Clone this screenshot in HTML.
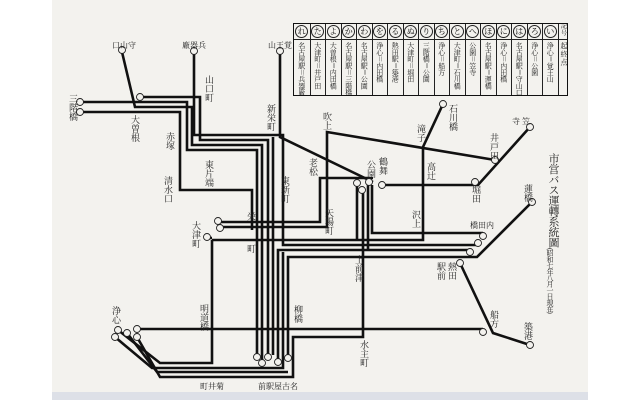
<!DOCTYPE html>
<html><head><meta charset="utf-8"><style>
body{margin:0;width:640px;height:400px;background:#fff;overflow:hidden;position:relative;font-family:"Liberation Serif","Noto Serif CJK SC","Noto Sans CJK JP",serif;}
#paper{position:absolute;left:52px;top:0;width:536px;height:392px;background:#f3f2ee;}
#strip{position:absolute;left:52px;top:392px;width:536px;height:8px;background:#dde0e7;}
.v{position:absolute;writing-mode:vertical-rl;font-size:9px;line-height:9px;color:#222;letter-spacing:0px;}
.h{position:absolute;font-size:8px;color:#222;white-space:nowrap;}
#tbl{position:absolute;left:293px;top:23px;width:275px;height:73px;border:1.5px solid #111;box-sizing:border-box;display:flex;background:#f3f2ee;overflow:hidden;}
.c{width:15.5px;flex:none;border-left:1px solid #222;box-sizing:border-box;display:flex;flex-direction:column;align-items:center;overflow:hidden;}
.c:first-child{border-left:none}
.c .k{height:15px;border-bottom:1px solid #222;width:100%;text-align:center;font-size:9px;line-height:15px;flex:none;}
.c .k span{display:inline-block;width:11px;height:11px;border:1px solid #222;border-radius:50%;line-height:11px;font-size:8px;}
.c .t{writing-mode:vertical-rl;font-size:7px;line-height:10px;padding-top:2px;color:#222;white-space:nowrap;letter-spacing:-0.3px;}
</style></head><body>
<div id="paper"></div><div id="strip"></div>
<svg width="640" height="400" style="position:absolute;left:0;top:0">
<g fill="none" stroke="#111" stroke-width="2.6" stroke-linejoin="miter">
<path d="M82,102 H187 V150 H257 V355"/>
<path d="M122,52 L135,107 H192 V145 H262 V360"/>
<path d="M140,97 H200 V140 H268 V355"/>
<path d="M194,52 V135 H283 V245 H478"/>
<path d="M280,52 V137 L373,182"/>
<path d="M82,112 H180 V190 H252 V230"/>
<path d="M273,137 V355"/>
<path d="M278,362 V250 H470"/>
<path d="M288,358 V257 H477 L532,202"/>
<path d="M212,240 V363 H160 L118,330"/>
<path d="M115,337 L152,368 H283 V252"/>
<path d="M127,333 L157,372 H288"/>
<path d="M137,337 L160,377 H293 V337 H363 V190"/>
<path d="M137,329 H483"/>
<path d="M207,238 H212"/>
<path d="M212,240 H423 V147 L443,104"/>
<path d="M220,227 H327 V132 L495,160"/>
<path d="M218,222 H320 V178 H373"/>
<path d="M372,185 V233 H483"/>
<path d="M357,183 V240"/>
<path d="M368,183 V250"/>
<path d="M382,185 H478 L530,127"/>
<path d="M460,263 L493,333 L530,345"/>
</g>
<g fill="#f3f2ee" stroke="#222" stroke-width="0.9">
<circle cx="122" cy="50" r="3.5"/><circle cx="194" cy="51" r="3.5"/><circle cx="280" cy="51" r="3.5"/>
<circle cx="80" cy="102" r="3.5"/><circle cx="80" cy="112" r="3.5"/><circle cx="140" cy="97" r="3.5"/>
<circle cx="257" cy="357" r="3.5"/><circle cx="262" cy="363" r="3.5"/><circle cx="268" cy="357" r="3.5"/><circle cx="278" cy="362" r="3.5"/><circle cx="288" cy="358" r="3.5"/>
<circle cx="118" cy="330" r="3.5"/><circle cx="115" cy="337" r="3.5"/><circle cx="127" cy="333" r="3.5"/><circle cx="137" cy="337" r="3.5"/><circle cx="137" cy="329" r="3.5"/>
<circle cx="218" cy="221" r="3.5"/><circle cx="220" cy="228" r="3.5"/><circle cx="207" cy="237" r="3.5"/>
<circle cx="357" cy="183" r="3.5"/><circle cx="362" cy="190" r="3.5"/><circle cx="369" cy="182" r="3.5"/><circle cx="382" cy="185" r="3.5"/><circle cx="475" cy="182" r="3.5"/>
<circle cx="443" cy="104" r="3.5"/><circle cx="495" cy="160" r="3.5"/><circle cx="530" cy="127" r="3.5"/><circle cx="532" cy="202" r="3.5"/>
<circle cx="483" cy="236" r="3.5"/><circle cx="478" cy="243" r="3.5"/><circle cx="470" cy="252" r="3.5"/>
<circle cx="460" cy="263" r="3.5"/><circle cx="530" cy="345" r="3.5"/><circle cx="483" cy="332" r="3.5"/>
</g>
</svg>
<div class="h" style="left:112px;top:40px">口山守</div>
<div class="h" style="left:182px;top:40px">廠器兵</div>
<div class="h" style="left:268px;top:40px">山王覚</div>
<div class="v" style="left:68px;top:94px">三階橋</div>
<div class="v" style="left:130px;top:115px">大曽根</div>
<div class="v" style="left:204px;top:75px">山口町</div>
<div class="v" style="left:266px;top:104px">新栄町</div>
<div class="v" style="left:165px;top:132px">赤塚</div>
<div class="v" style="left:204px;top:160px">東片端</div>
<div class="v" style="left:163px;top:176px">清水口</div>
<div class="v" style="left:280px;top:176px">東新町</div>
<div class="v" style="left:322px;top:112px">吹上</div>
<div class="v" style="left:308px;top:158px">老松</div>
<div class="v" style="left:378px;top:157px">鶴舞</div>
<div class="v" style="left:366px;top:160px">公園</div>
<div class="v" style="left:416px;top:124px">滝子</div>
<div class="v" style="left:426px;top:162px">高辻</div>
<div class="v" style="left:448px;top:104px">石川橋</div>
<div class="v" style="left:489px;top:133px">井戸田</div>
<div class="h" style="left:512px;top:116px">寺 笠</div>
<div class="v" style="left:471px;top:185px">堀田</div>
<div class="h" style="left:470px;top:220px">橋田内</div>
<div class="v" style="left:447px;top:262px">熱田</div>
<div class="v" style="left:436px;top:262px">駅前</div>
<div class="v" style="left:489px;top:310px">船方</div>
<div class="v" style="left:523px;top:322px">築港</div>
<div class="v" style="left:523px;top:184px">蓮橋</div>
<div class="v" style="left:411px;top:210px">沢上</div>
<div class="v" style="left:324px;top:208px">矢場町</div>
<div class="v" style="left:246px;top:212px">栄</div>
<div class="v" style="left:246px;top:244px">町</div>
<div class="v" style="left:191px;top:221px">大津町</div>
<div class="v" style="left:354px;top:255px">上前津</div>
<div class="v" style="left:293px;top:305px">柳橋</div>
<div class="v" style="left:199px;top:304px">明道橋</div>
<div class="v" style="left:111px;top:306px">浄心</div>
<div class="v" style="left:359px;top:340px">水主町</div>
<div class="h" style="left:200px;top:381px">町井菊</div>
<div class="h" style="left:258px;top:381px">前駅屋古名</div>
<div class="v" style="left:547px;top:153px;font-size:11px;line-height:12px;letter-spacing:-0.5px">市営バス運轉系統圖</div>
<div class="v" style="left:546px;top:248px;font-size:7px;line-height:8px;letter-spacing:-0.8px">(昭和七年八月一日現在)</div>
<div id="tbl">
<div class="c"><div class="k"><span>れ</span></div><div class="t">名古屋駅＝兵器廠</div></div>
<div class="c"><div class="k"><span>た</span></div><div class="t">大津町＝井戸田</div></div>
<div class="c"><div class="k"><span>よ</span></div><div class="t">大曽根＝内田橋</div></div>
<div class="c"><div class="k"><span>か</span></div><div class="t">名古屋駅＝三階橋</div></div>
<div class="c"><div class="k"><span>わ</span></div><div class="t">名古屋駅＝公園</div></div>
<div class="c"><div class="k"><span>を</span></div><div class="t">浄心＝内田橋</div></div>
<div class="c"><div class="k"><span>る</span></div><div class="t">熱田駅＝築港</div></div>
<div class="c"><div class="k"><span>ぬ</span></div><div class="t">大津町＝堀田</div></div>
<div class="c"><div class="k"><span>り</span></div><div class="t">三階橋＝公園</div></div>
<div class="c"><div class="k"><span>ち</span></div><div class="t">浄心＝船方</div></div>
<div class="c"><div class="k"><span>と</span></div><div class="t">大津町＝石川橋</div></div>
<div class="c"><div class="k"><span>へ</span></div><div class="t">公園＝笠寺</div></div>
<div class="c"><div class="k"><span>ほ</span></div><div class="t">名古屋駅＝運橋</div></div>
<div class="c"><div class="k"><span>に</span></div><div class="t">浄心＝内田橋</div></div>
<div class="c"><div class="k"><span>は</span></div><div class="t">名古屋駅＝守山口</div></div>
<div class="c"><div class="k"><span>ろ</span></div><div class="t">浄心＝公園</div></div>
<div class="c"><div class="k"><span>い</span></div><div class="t">浄心＝覚王山</div></div>
<div class="c" style="width:12px"><div class="k" style="font-size:6px;line-height:7px">記号</div><div class="t">起 終 点</div></div>
</div>
</body></html>
